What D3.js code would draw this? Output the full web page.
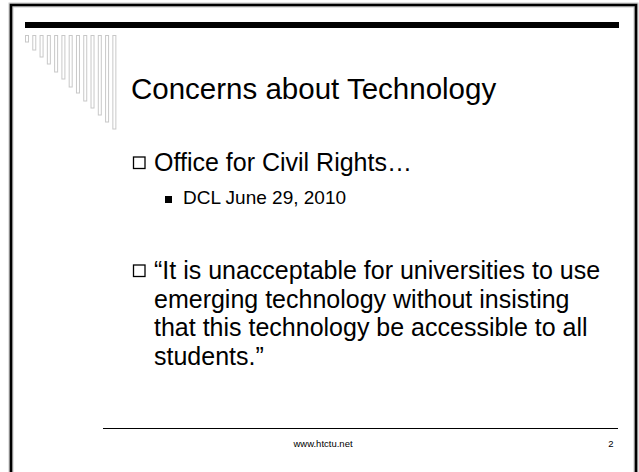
<!DOCTYPE html>
<html><head><meta charset="utf-8">
<script src="https://cdn.jsdelivr.net/npm/d3@7"></script>
<style>html,body{margin:0;padding:0;background:#fff;}svg{display:block;}</style>
</head><body>
<svg id="s" width="639" height="472"></svg>
<script>
const title = "Concerns about Technology";
const bullets = [
  {level: 1, lines: ["Office for Civil Rights…"]},
  {level: 2, lines: ["DCL June 29, 2010"]},
  {level: 1, lines: ["“It is unacceptable for universities to use", "emerging technology without insisting", "that this technology be accessible to all", "students.”"]}
];
const bulletBaselines = [171, 204, 279];
const footerText = "www.htctu.net";
const pageNumber = "2";
const combBottoms = [42, 50, 57, 64, 72, 79, 87, 93, 101, 108, 115, 122, 129];

const svg = d3.select("#s");
const W = 639, H = 472;
const font = "'Liberation Sans', Arial, Helvetica, sans-serif";

svg.append("rect").attr("width", W).attr("height", H).attr("fill", "#fff");

// frame
const frame = svg.append("g");
frame.append("path").attr("d", "M11,472 V5 H636 V472").attr("fill", "none")
  .attr("stroke", "#c8c8c8").attr("stroke-width", 5);
frame.append("path").attr("d", "M11,472 V5 H636 V472").attr("fill", "none")
  .attr("stroke", "#000").attr("stroke-width", 2.6);

// top bar
svg.append("rect").attr("x", 25).attr("y", 22).attr("width", 594).attr("height", 6).attr("fill", "#000");

// comb decoration
const xComb = d3.scaleBand().domain(d3.range(combBottoms.length)).range([25, 25 + 7 * combBottoms.length]).paddingInner(0.5).paddingOuter(0);
svg.append("g").selectAll("rect").data(combBottoms).join("rect")
  .attr("x", (d, i) => xComb(i) + 0.5).attr("y", 35.5)
  .attr("width", 3).attr("height", d => d - 35.5)
  .attr("fill", "none").attr("stroke", "#c8c8c8").attr("stroke-width", 1);

// title
svg.append("text").attr("x", 131).attr("y", 98.5).attr("font-family", font)
  .attr("font-size", 29.5).attr("fill", "#000").text(title);

// bullets
bullets.forEach((b, i) => {
  const y0 = bulletBaselines[i];
  if (b.level === 1) {
    svg.append("rect").attr("x", 133.5).attr("y", y0 - 14).attr("width", 11.5).attr("height", 11.5)
      .attr("fill", "none").attr("stroke", "#000").attr("stroke-width", 1.3);
    b.lines.forEach((ln, j) => {
      svg.append("text").attr("x", 154).attr("y", y0 + j * 28.6).attr("font-family", font)
        .attr("font-size", 25).attr("fill", "#000").text(ln);
    });
  } else {
    svg.append("rect").attr("x", 165).attr("y", y0 - 8).attr("width", 7).attr("height", 7).attr("fill", "#000");
    b.lines.forEach((ln, j) => {
      svg.append("text").attr("x", 183).attr("y", y0 + j * 24).attr("font-family", font)
        .attr("font-size", 19).attr("fill", "#000").text(ln);
    });
  }
});

// footer
svg.append("line").attr("x1", 103).attr("x2", 618).attr("y1", 428.5).attr("y2", 428.5)
  .attr("stroke", "#000").attr("stroke-width", 1);
svg.append("text").attr("x", 323).attr("y", 447).attr("text-anchor", "middle").attr("font-family", font)
  .attr("font-size", 9.5).attr("fill", "#000").text(footerText);
svg.append("text").attr("x", 611).attr("y", 447).attr("text-anchor", "middle").attr("font-family", font)
  .attr("font-size", 9.5).attr("fill", "#000").text(pageNumber);
</script>
</body></html>
